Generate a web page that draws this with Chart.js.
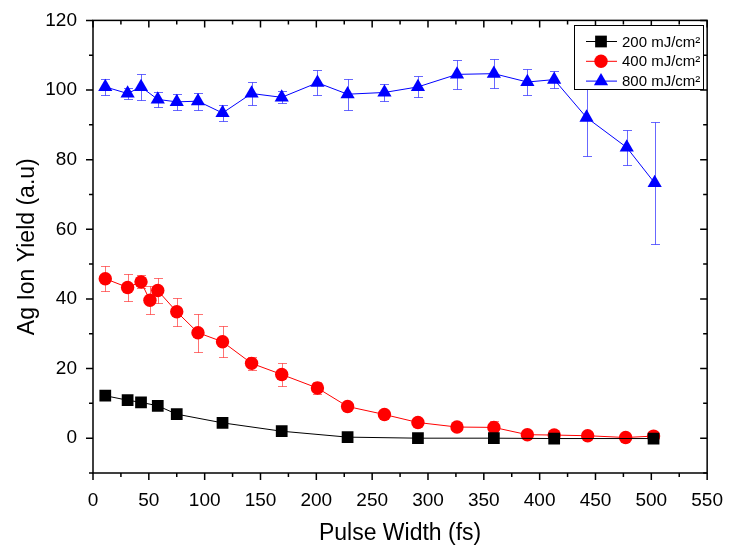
<!DOCTYPE html>
<html>
<head>
<meta charset="utf-8">
<script src="https://cdn.jsdelivr.net/npm/chart.js@4/dist/chart.umd.min.js"></script>
<style>
  html, body { margin: 0; padding: 0; background: #fff; }
  #wrap { width: 732px; height: 550px; }
</style>
</head>
<body>
<div id="wrap"><canvas id="chart" width="732" height="550"></canvas></div>
<script>
/* ── Data ── */
const seriesLabels = ['200 mJ/cm\u00B2', '400 mJ/cm\u00B2', '800 mJ/cm\u00B2'];

const pulse200 = [11, 31, 43, 58, 75, 116, 169, 228, 291, 359, 413, 502];
const yield200 = [12.2, 10.9, 10.3, 9.3, 6.9, 4.4, 2.0, 0.3, 0.0, 0.0, -0.1, -0.1];

const pulse400 = [11, 31, 43, 51, 58, 75, 94, 116, 142, 169, 201, 228, 261, 291, 326, 359, 389, 413, 443, 477, 502];
const yield400 = [45.8, 43.3, 44.9, 39.6, 42.4, 36.3, 30.3, 27.7, 21.5, 18.3, 14.4, 9.1, 6.8, 4.5, 3.2, 3.1, 1.0, 0.9, 0.7, 0.2, 0.6];
const err400   = [3.6, 4.0, 1.9, 4.0, 3.6, 4.0, 5.5, 4.4, 1.9, 3.4, 1.6, 0.8, 0.6, 0.6, 0.7, 1.9, 0.4, 0.4, 0.4, 0.3, 0.4];

const pulse800 = [11, 31, 43, 58, 75, 94, 116, 142, 169, 201, 228, 261, 291, 326, 359, 389, 413, 442, 478, 503];
const yield800 = [100.9, 99.0, 100.9, 97.3, 96.6, 96.8, 93.4, 99.0, 97.9, 102.1, 98.8, 99.3, 100.9, 104.5, 104.7, 102.3, 103.0, 92.1, 83.5, 73.3];
const err800   = [2.3, 1.7, 3.7, 2.2, 2.4, 2.4, 2.4, 3.2, 1.7, 3.6, 4.4, 2.5, 3.0, 4.2, 4.2, 3.7, 2.4, 11.1, 5.0, 17.5];

const xTicks = [0, 50, 100, 150, 200, 250, 300, 350, 400, 450, 500, 550];
const yTicks = [0, 20, 40, 60, 80, 100, 120];

const FONT = "'Liberation Sans', Arial, sans-serif";

function toPoints(xs, ys) {
  return xs.map((x, i) => ({ x: x, y: ys[i] }));
}

/* ── Error bars, drawn from the scales ── */
const errorBars = {
  id: 'errorBars',
  beforeDatasetsDraw(chart) {
    const { ctx, scales: { x, y } } = chart;
    chart.data.datasets.forEach((ds) => {
      if (!ds.errors) return;
      ctx.save();
      ctx.strokeStyle = ds.errorColor;
      ctx.lineWidth = 1;
      ds.data.forEach((p, i) => {
        const e = ds.errors[i];
        const px = Math.round(x.getPixelForValue(p.x)) + 0.5;
        const yTop = Math.round(y.getPixelForValue(p.y + e)) + 0.5;
        const yBot = Math.round(y.getPixelForValue(p.y - e)) + 0.5;
        ctx.beginPath();
        ctx.moveTo(px, yTop); ctx.lineTo(px, yBot);
        ctx.moveTo(px - 4.5, yTop); ctx.lineTo(px + 4.5, yTop);
        ctx.moveTo(px - 4.5, yBot); ctx.lineTo(px + 4.5, yBot);
        ctx.stroke();
      });
      ctx.restore();
    });
  }
};

/* ── Origin-style frame: outward ticks left/bottom, inward top/right ── */
const frame = {
  id: 'frame',
  afterDraw(chart) {
    const { ctx, chartArea: a, scales: { x, y } } = chart;
    ctx.save();
    ctx.strokeStyle = '#000';
    ctx.lineWidth = 1.5;
    ctx.strokeRect(a.left, a.top, a.right - a.left, a.bottom - a.top);
    ctx.beginPath();
    for (let v = 0; v <= 550; v += 25) {
      const px = x.getPixelForValue(v);
      const len = v % 50 === 0 ? 7 : 4;
      ctx.moveTo(px, a.bottom); ctx.lineTo(px, a.bottom + len);
      ctx.moveTo(px, a.top); ctx.lineTo(px, a.top + len);
    }
    for (let v = -10; v <= 120; v += 10) {
      const py = y.getPixelForValue(v);
      const len = v % 20 === 0 ? 7 : 4;
      ctx.moveTo(a.left, py); ctx.lineTo(a.left - len, py);
      ctx.moveTo(a.right, py); ctx.lineTo(a.right - len, py);
    }
    ctx.stroke();
    ctx.restore();
  }
};

/* ── Boxed legend inside the plot, top right ── */
const boxLegend = {
  id: 'boxLegend',
  afterDraw(chart) {
    const { ctx } = chart;
    const bx = 574.5, by = 25.5, bw = 129, bh = 64;
    ctx.save();
    ctx.fillStyle = '#fff';
    ctx.fillRect(bx, by, bw, bh);
    ctx.strokeStyle = '#000';
    ctx.lineWidth = 1;
    ctx.strokeRect(bx, by, bw, bh);
    ctx.font = '15px ' + FONT;
    ctx.textBaseline = 'middle';
    chart.data.datasets.forEach((ds, i) => {
      const cy = 41.5 + i * 19.8;
      ctx.strokeStyle = ds.borderColor;
      ctx.lineWidth = 1;
      ctx.beginPath();
      ctx.moveTo(586, cy); ctx.lineTo(617, cy);
      ctx.stroke();
      ctx.fillStyle = ds.backgroundColor;
      Chart.helpers.drawPoint(ctx, { pointStyle: ds.pointStyle, radius: ds.pointRadius, borderWidth: 0 }, 601, cy);
      ctx.fillStyle = '#000';
      ctx.fillText(ds.label, 622, cy + 1);
    });
    ctx.restore();
  }
};

function makeDataset(label, xs, ys, color, style, radius, errs, errColor) {
  return {
    label: label,
    data: toPoints(xs, ys),
    showLine: true,
    borderColor: color,
    backgroundColor: color,
    borderWidth: 1,
    pointStyle: style,
    pointRadius: radius,
    pointHoverRadius: radius,
    pointBorderWidth: 0,
    pointBackgroundColor: color,
    errors: errs,
    errorColor: errColor,
  };
}

const datasets = [
  makeDataset(seriesLabels[0], pulse200, yield200, '#000000', 'rect', 8.3, null, null),
  makeDataset(seriesLabels[1], pulse400, yield400, '#ff0000', 'circle', 6.7, err400, 'rgba(255,0,0,0.55)'),
  makeDataset(seriesLabels[2], pulse800, yield800, '#0000ff', 'triangle', 8.2, err800, 'rgba(40,40,255,0.7)'),
];

new Chart(document.getElementById('chart'), {
  type: 'scatter',
  data: { datasets: datasets },
  plugins: [errorBars, frame, boxLegend],
  options: {
    responsive: false,
    animation: false,
    layout: { padding: { top: 20, right: 19, left: 0, bottom: 0 } },
    plugins: {
      legend: { display: false },
      tooltip: { enabled: false },
    },
    scales: {
      x: {
        type: 'linear',
        min: 0,
        max: 550,
        afterFit: (s) => { s.height = 77; },
        afterBuildTicks: (s) => { s.ticks = xTicks.map(v => ({ value: v })); },
        grid: { display: false, drawTicks: true, tickLength: 7 },
        border: { display: false },
        ticks: { color: '#000', padding: 9, maxRotation: 0, font: { family: FONT, size: 19 } },
        title: {
          display: true,
          text: 'Pulse Width (fs)',
          color: '#000',
          font: { family: FONT, size: 23 },
          padding: { top: 0, bottom: 3 },
        },
      },
      y: {
        type: 'linear',
        min: -10,
        max: 120,
        afterFit: (s) => { s.width = 93; },
        afterBuildTicks: (s) => { s.ticks = yTicks.map(v => ({ value: v })); },
        grid: { display: false, drawTicks: true, tickLength: 7 },
        border: { display: false },
        ticks: { color: '#000', padding: 9, font: { family: FONT, size: 19 } },
        title: {
          display: true,
          text: 'Ag Ion Yield (a.u)',
          color: '#000',
          font: { family: FONT, size: 23 },
          padding: { top: 14, bottom: 0 },
        },
      },
    },
  },
});
</script>
</body>
</html>
